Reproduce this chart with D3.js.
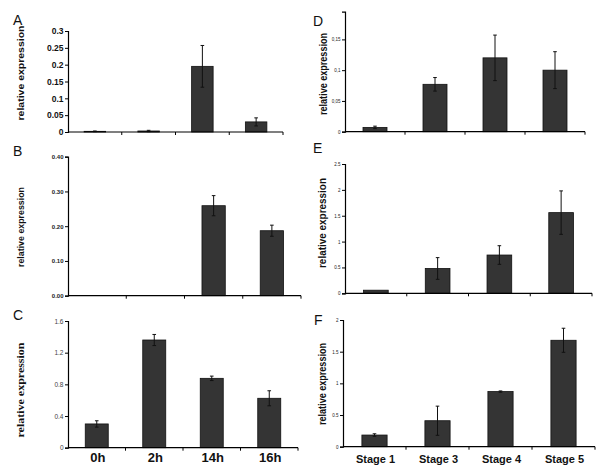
<!DOCTYPE html>
<html><head><meta charset="utf-8">
<script src="https://cdn.jsdelivr.net/npm/d3@7"></script>
<style>body{margin:0;background:#fff}svg{display:block}</style>
</head><body><svg id="c" width="600" height="468"></svg>
<script>
const categoriesLeft = ["0h","2h","14h","16h"];
const categoriesRight = ["Stage 1","Stage 3","Stage 4","Stage 5"];

const valuesA = [0.002, 0.003, 0.195, 0.030];
const errorsA = [0.001, 0.002, 0.062, 0.012];
const valuesB = [0, 0, 0.259, 0.187];
const errorsB = [0, 0, 0.029, 0.016];
const valuesC = [0.30, 1.36, 0.876, 0.624];
const errorsC = [0.04, 0.07, 0.028, 0.095];
const valuesD = [0.007, 0.077, 0.120, 0.100];
const errorsD = [0.002, 0.011, 0.037, 0.030];
const valuesE = [0.06, 0.48, 0.74, 1.56];
const errorsE = [0, 0.21, 0.18, 0.42];
const valuesF = [0.184, 0.41, 0.87, 1.68];
const errorsF = [0.02, 0.23, 0.01, 0.19];

const ticksA = [0,0.05,0.1,0.15,0.2,0.25,0.3];
const tickLabelsA = ["0","0.05","0.1","0.15","0.2","0.25","0.3"];
const ticksB = [0,0.1,0.2,0.3,0.4];
const tickLabelsB = ["0.00","0.10","0.20","0.30","0.40"];
const ticksC = [0,0.4,0.8,1.2,1.6];
const tickLabelsC = ["0","0.4","0.8","1.2","1.6"];
const ticksD = [0,0.05,0.1,0.15];
const tickLabelsD = ["0","0,05","0,1","0,15"];
const ticksE = [0,0.5,1,1.5,2,2.5];
const tickLabelsE = ["0","0.5","1","1.5","2","2.5"];
const ticksF = [0,0.5,1,1.5,2];
const tickLabelsF = ["0","0.5","1","1.5","2"];

const yTitle = "relative expression";

const panels = [
  {letter:"A", cats:categoriesLeft, vals:valuesA, errs:errorsA, ticks:ticksA, labels:tickLabelsA, showX:false,
   x0:68, x1:283, yTop:31, yBot:132, dmax:0.3, lx:13, ly:25,
   tickFont:{size:8.5, weight:"bold", fill:"#111", family:"Arial, Liberation Sans"},
   title:{x:24, y:73, len:95, size:9.5, family:"Arial, Liberation Sans"}},
  {letter:"B", cats:categoriesLeft, vals:valuesB, errs:errorsB, ticks:ticksB, labels:tickLabelsB, showX:false,
   x0:68, x1:301, yTop:156.7, yBot:295.7, dmax:0.4, lx:13, ly:156,
   tickFont:{size:6, weight:"bold", fill:"#222", family:"Arial, Liberation Sans"},
   title:{x:24, y:227, len:80, size:9.5, family:"Arial, Liberation Sans"}},
  {letter:"C", cats:categoriesLeft, vals:valuesC, errs:errorsC, ticks:ticksC, labels:tickLabelsC, showX:true,
   x0:68, x1:298, yTop:321, yBot:447.7, dmax:1.6, lx:13, ly:320,
   tickFont:{size:6.5, weight:"normal", fill:"#444", family:"Arial, Liberation Sans"},
   title:{x:24, y:390, len:95, size:10, family:"Liberation Serif, Times New Roman, serif"}},
  {letter:"D", cats:categoriesRight, vals:valuesD, errs:errorsD, ticks:ticksD, labels:tickLabelsD, showX:false,
   x0:345, x1:585, yTop:11.7, yBot:131.7, dmax:0.195, lx:313, ly:26,
   tickFont:{size:4.5, weight:"normal", fill:"#222", family:"Arial, Liberation Sans"},
   title:{x:327, y:74, len:82, size:11, family:"Arial, Liberation Sans"}},
  {letter:"E", cats:categoriesRight, vals:valuesE, errs:errorsE, ticks:ticksE, labels:tickLabelsE, showX:false,
   x0:345, x1:592, yTop:164, yBot:293.3, dmax:2.5, lx:313, ly:153,
   tickFont:{size:4.5, weight:"normal", fill:"#222", family:"Arial, Liberation Sans"},
   title:{x:326, y:223, len:90, size:11, family:"Arial, Liberation Sans"}},
  {letter:"F", cats:categoriesRight, vals:valuesF, errs:errorsF, ticks:ticksF, labels:tickLabelsF, showX:true,
   x0:343, x1:595, yTop:320, yBot:446.7, dmax:2, lx:314, ly:325,
   tickFont:{size:4.5, weight:"normal", fill:"#222", family:"Arial, Liberation Sans"},
   title:{x:326, y:384, len:82, size:11, family:"Arial, Liberation Sans"}}
];

const svg = d3.select("#c");

panels.forEach(p => {
  const g = svg.append("g");
  const x = d3.scaleBand().domain(p.cats).range([p.x0, p.x1]).paddingInner(0).paddingOuter(0);
  const y = d3.scaleLinear().domain([0, p.dmax]).range([p.yBot, p.yTop]);
  const bw = x.bandwidth()*0.4;

  // bars
  g.selectAll("rect.bar").data(p.vals).join("rect")
    .attr("x", (d,i) => x(p.cats[i]) + x.bandwidth()/2 - bw/2)
    .attr("y", d => y(d))
    .attr("width", bw)
    .attr("height", d => Math.max(0, p.yBot - y(d)))
    .attr("fill", "#343434")
    .attr("stroke", "#111")
    .attr("stroke-width", 0.8);

  // error bars
  p.vals.forEach((v,i) => {
    const e = p.errs[i];
    if (!e) return;
    const cx = x(p.cats[i]) + x.bandwidth()/2;
    g.append("line").attr("x1",cx).attr("x2",cx).attr("y1",y(v+e)).attr("y2",y(Math.max(0,v-e)))
      .attr("stroke","#111").attr("stroke-width",1);
    g.append("line").attr("x1",cx-1.8).attr("x2",cx+1.8).attr("y1",y(v+e)).attr("y2",y(v+e))
      .attr("stroke","#111").attr("stroke-width",1);
    g.append("line").attr("x1",cx-1.8).attr("x2",cx+1.8).attr("y1",y(Math.max(0,v-e))).attr("y2",y(Math.max(0,v-e)))
      .attr("stroke","#111").attr("stroke-width",1);
  });

  // y axis
  const yAxis = d3.axisLeft(y).tickValues(p.ticks).tickFormat((d,i) => p.labels[i]).tickSizeOuter(0).tickSize(3).tickPadding(1.5);
  const ya = g.append("g").attr("transform", `translate(${p.x0},0)`).call(yAxis);
  ya.select(".domain").attr("stroke","#000").attr("stroke-width",1.2);
  ya.selectAll(".tick line").attr("stroke","#000");
  ya.selectAll(".tick text").attr("font-size", p.tickFont.size).attr("font-weight", p.tickFont.weight)
    .attr("fill", p.tickFont.fill).attr("font-family", p.tickFont.family);

  // x axis line + boundary ticks
  g.append("line").attr("x1",p.x0).attr("x2",p.x1).attr("y1",p.yBot).attr("y2",p.yBot)
    .attr("stroke","#000").attr("stroke-width",1.2);
  const bounds = p.cats.map(c => x(c) + x.bandwidth()).filter((d,i)=> true);
  g.selectAll("line.xt").data(bounds).join("line")
    .attr("x1", d=>d).attr("x2", d=>d).attr("y1", p.yBot).attr("y2", p.yBot+3)
    .attr("stroke","#000").attr("stroke-width",1);

  if (p.showX) {
    g.selectAll("text.xl").data(p.cats).join("text")
      .attr("x", d => x(d) + x.bandwidth()/2 + 1)
      .attr("y", p.yBot + (p.letter==="C" ? 14 : 16.5))
      .attr("text-anchor","middle")
      .attr("font-family","Arial, Liberation Sans, sans-serif")
      .attr("font-weight","bold")
      .attr("font-size", p.letter==="C" ? 13 : 11)
      .attr("fill","#111")
      .text(d => d);
  }

  // y title
  g.append("text")
    .attr("transform", `translate(${p.title.x},${p.title.y}) rotate(-90)`)
    .attr("text-anchor","middle")
    .attr("font-family", p.title.family)
    .attr("font-weight","bold")
    .attr("font-size", p.title.size)
    .attr("textLength", p.title.len)
    .attr("lengthAdjust","spacingAndGlyphs")
    .attr("fill","#111")
    .text(yTitle);

  // panel letter
  g.append("text").attr("x", p.lx).attr("y", p.ly)
    .attr("font-family","Arial, Liberation Sans, sans-serif")
    .attr("font-size", 14).attr("fill","#111")
    .text(p.letter);
});
</script></body></html>
